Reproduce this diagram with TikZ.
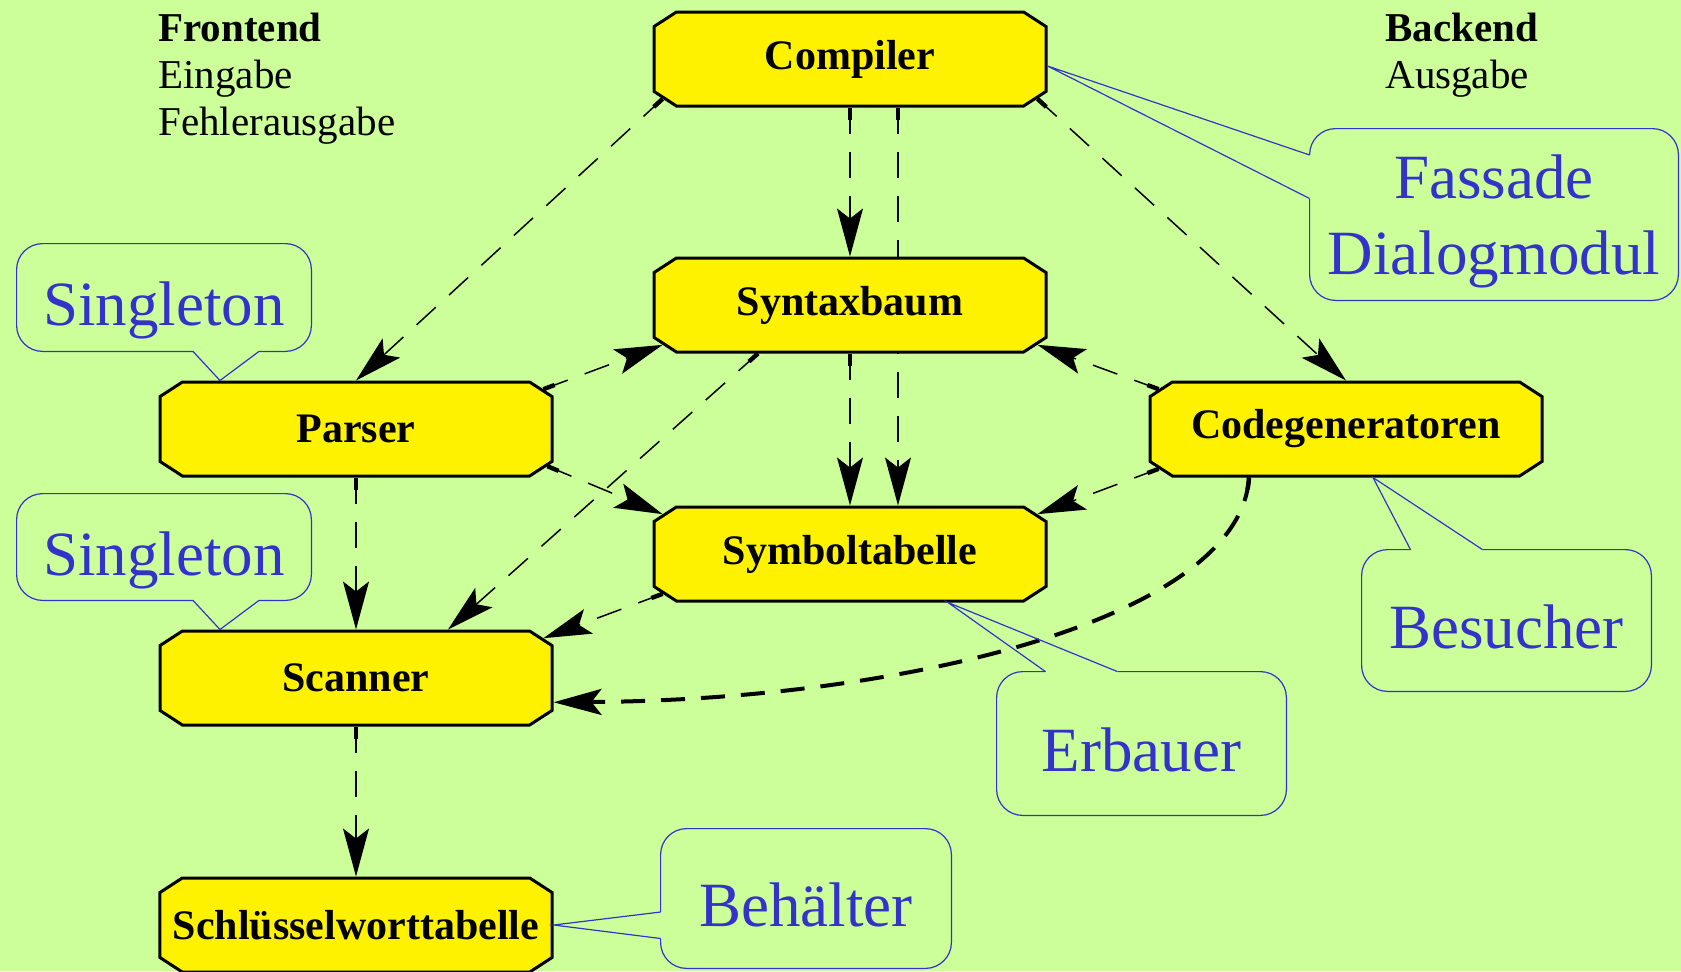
\documentclass[tikz,border=0pt]{standalone}
\usepackage{fontspec}
\setmainfont{Liberation Serif}
\usetikzlibrary{arrows.meta,shapes.misc}
\definecolor{hgrund}{RGB}{204,255,153}
\definecolor{blau}{RGB}{51,51,204}
\pgfdeclarelayer{hinten}
\pgfsetlayers{hinten,main}

\begin{document}
\begin{tikzpicture}
[x=0.5pt,y=-0.5pt,
klasse/.style={chamfered rectangle,chamfered rectangle xsep=6.5pt,chamfered rectangle angle=57,draw=black,line width=1.5pt,fill=yellow,minimum width=196pt,minimum height=47pt,inner sep=0pt,font=\bfseries\fontsize{21}{25}\selectfont},
muster/.style={rectangle,text=blau,align=center,text depth=0pt,font=\fontsize{31.5}{38}\selectfont},
muster1/.style={muster,text height=28pt},
huelle/.style={draw=blau,line width=0.6pt,rounded corners=13pt},
zunge/.style={draw=blau,line width=0.6pt},
pfeil/.style={line width=0.75pt,dash pattern=on 13pt off 9pt,-{Stealth[length=24pt,width=13pt,inset=5pt]},
  postaction={draw,-,line width=2.2pt,dash pattern=on 6pt off 2000pt}}]
\useasboundingbox (0,0) rectangle (1681,971);

% Klassen
\node[klasse] (cmp) at (850,59) {Compiler};
\node[klasse] (syn) at (850,305) {Syntaxbaum};
\node[klasse] (par) at (356,429) {Parser};
\node[klasse] (cg) at (1346,429) {Codegeneratoren};
\node[klasse] (sym) at (850,554) {Symboltabelle};
\node[klasse] (scn) at (356,678) {Scanner};
\node[klasse] (swt) at (356,925) {Schlüsselworttabelle};

\node[anchor=north west,align=left,inner sep=0pt,font=\fontsize{20.5}{23.5}\selectfont] (fe) at (158,13) {\textbf{Frontend}\\Eingabe\\Fehlerausgabe};
\node[anchor=north west,align=left,inner sep=0pt,font=\fontsize{20.5}{23.5}\selectfont] (be) at (1385,13) {\textbf{Backend}\\Ausgabe};

% Muster
\node[muster1,minimum width=147pt,minimum height=53.5pt] (sng1) at (164,297.5) {Singleton};
\node[muster1,minimum width=147pt,minimum height=53pt] (sng2) at (164,547) {Singleton};
\node[muster,minimum width=184pt,minimum height=85.5pt] (fas) at (1494,214.5) {Fassade\\Dialogmodul};
\node[muster1,minimum width=144.5pt,minimum height=70.5pt] (bes) at (1506.5,620.5) {Besucher};
\node[muster1,minimum width=144.5pt,minimum height=71.5pt] (erb) at (1141.5,743.5) {Erbauer};
\node[muster1,minimum width=145pt,minimum height=69.5pt] (beh) at (806,898.5) {Behälter};

\draw[huelle] ([xshift=47.5pt]sng1.south) -- (sng1.south east) -- (sng1.north east) -- (sng1.north west) -- (sng1.south west) -- ([xshift=14.5pt]sng1.south);
\draw[zunge] ([xshift=14.5pt]sng1.south) -- ([xshift=-68pt]par.north) -- ([xshift=47.5pt]sng1.south);
\draw[huelle] ([xshift=47.5pt]sng2.south) -- (sng2.south east) -- (sng2.north east) -- (sng2.north west) -- (sng2.south west) -- ([xshift=14.5pt]sng2.south);
\draw[zunge] ([xshift=14.5pt]sng2.south) -- ([xshift=-68pt]scn.north) -- ([xshift=47.5pt]sng2.south);
\draw[huelle] ([yshift=29.75pt]fas.west) -- (fas.north west) -- (fas.north east) -- (fas.south east) -- (fas.south west) -- ([yshift=8pt]fas.west);
\draw[zunge] ([yshift=29.75pt]fas.west) -- ([yshift=-3.5pt]cmp.east) -- ([yshift=8pt]fas.west);
\draw[huelle] ([xshift=-12pt]bes.north) -- (bes.north east) -- (bes.south east) -- (bes.south west) -- (bes.north west) -- ([xshift=-48pt]bes.north);
\draw[zunge] ([xshift=-48pt]bes.north) -- ([xshift=13.5pt]cg.south) -- ([xshift=-12pt]bes.north);
\draw[huelle] ([xshift=-12pt]erb.north) -- (erb.north east) -- (erb.south east) -- (erb.south west) -- (erb.north west) -- ([xshift=-48pt]erb.north);
\draw[zunge] ([xshift=-48pt]erb.north) -- ([xshift=49pt]sym.south) -- ([xshift=-12pt]erb.north);
\draw[huelle] ([yshift=-6.75pt]beh.west) -- (beh.north west) -- (beh.north east) -- (beh.south east) -- (beh.south west) -- ([yshift=-20pt]beh.west);
\draw[zunge] ([yshift=-6.75pt]beh.west) -- (swt.east) -- ([yshift=-20pt]beh.west);

% Abhaengigkeiten
\begin{pgfonlayer}{hinten}
\fill[hgrund] (0,0) rectangle (1681,971);
\draw[pfeil] (cmp.192) -- (par.north);
\draw[pfeil] (cmp.south) -- (syn.north);
\draw[pfeil] ([xshift=24pt]cmp.south) -- ([xshift=24pt]sym.north);
\draw[pfeil] (cmp.348) -- (cg.north);
\draw[pfeil] (par.12) -- (syn.192);
\draw[pfeil] (par.349) -- (sym.168);
\draw[pfeil] (par.south) -- (scn.north);
\draw[pfeil] ([xshift=-46pt]syn.south) -- ([xshift=46pt]scn.north);
\draw[pfeil] (syn.south) -- (sym.north);
\draw[pfeil] (cg.168) -- (syn.348);
\draw[pfeil] (cg.192) -- (sym.12);
\draw[pfeil] (sym.192) -- (scn.12);
\draw[pfeil] (scn.south) -- (swt.north);
\draw[pfeil,line width=2pt,dash pattern=on 12pt off 8pt] ([xshift=-48.5pt]cg.south) .. controls (1240,620) and (900,700) .. (scn.353);
\end{pgfonlayer}
\end{tikzpicture}
\end{document}
